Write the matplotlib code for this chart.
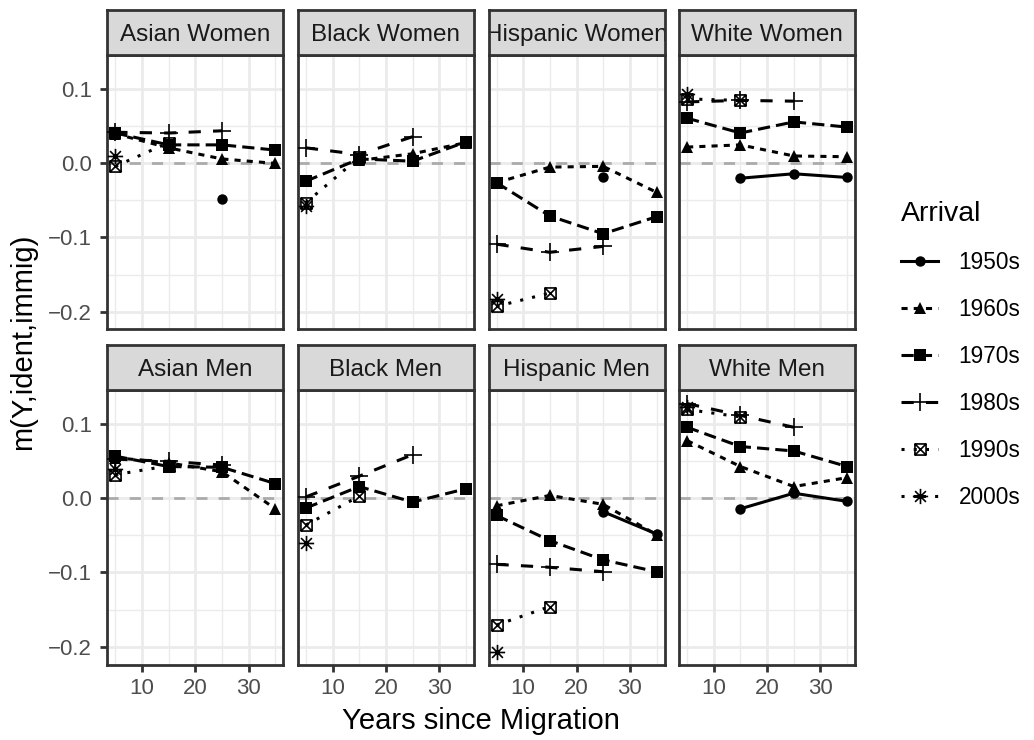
import numpy as np
import matplotlib
matplotlib.use("Agg")
import matplotlib.pyplot as plt
from matplotlib.path import Path
from matplotlib.lines import Line2D

nan = np.nan

# ---------------- data ----------------
years = [5, 15, 25, 35]
arrivals = ["1950s", "1960s", "1970s", "1980s", "1990s", "2000s"]
panels = ["Asian Women", "Black Women", "Hispanic Women", "White Women",
          "Asian Men", "Black Men", "Hispanic Men", "White Men"]

asian_women = {
    "1950s": [nan, nan, -0.048, nan],
    "1960s": [0.040, 0.021, 0.006, 0.000],
    "1970s": [0.041, 0.025, 0.025, 0.018],
    "1980s": [0.042, 0.041, 0.044, nan],
    "1990s": [-0.004, 0.028, nan, nan],
    "2000s": [0.010, nan, nan, nan],
}
black_women = {
    "1950s": [nan, nan, nan, nan],
    "1960s": [nan, 0.004, 0.013, 0.028],
    "1970s": [-0.024, 0.006, 0.003, 0.029],
    "1980s": [0.021, 0.012, 0.036, nan],
    "1990s": [-0.053, 0.008, nan, nan],
    "2000s": [-0.058, nan, nan, nan],
}
hispanic_women = {
    "1950s": [nan, nan, -0.018, nan],
    "1960s": [-0.026, -0.005, -0.004, -0.039],
    "1970s": [-0.026, -0.071, -0.095, -0.072],
    "1980s": [-0.109, -0.120, -0.112, nan],
    "1990s": [-0.193, -0.175, nan, nan],
    "2000s": [-0.183, nan, nan, nan],
}
white_women = {
    "1950s": [nan, -0.020, -0.014, -0.019],
    "1960s": [0.022, 0.025, 0.010, 0.009],
    "1970s": [0.061, 0.041, 0.056, 0.049],
    "1980s": [0.083, 0.085, 0.084, nan],
    "1990s": [0.087, 0.085, nan, nan],
    "2000s": [0.094, nan, nan, nan],
}
asian_men = {
    "1950s": [nan, nan, nan, nan],
    "1960s": [0.055, 0.048, 0.036, -0.014],
    "1970s": [0.057, 0.043, 0.042, 0.020],
    "1980s": [0.053, 0.050, 0.045, nan],
    "1990s": [0.032, 0.044, nan, nan],
    "2000s": [0.040, nan, nan, nan],
}
black_men = {
    "1950s": [nan, nan, nan, nan],
    "1960s": [nan, nan, nan, nan],
    "1970s": [-0.013, 0.016, -0.005, 0.013],
    "1980s": [0.002, 0.030, 0.059, nan],
    "1990s": [-0.036, 0.003, nan, nan],
    "2000s": [-0.060, nan, nan, nan],
}
hispanic_men = {
    "1950s": [nan, nan, -0.018, -0.048],
    "1960s": [-0.010, 0.004, -0.008, -0.049],
    "1970s": [-0.023, -0.057, -0.083, -0.099],
    "1980s": [-0.089, -0.093, -0.099, nan],
    "1990s": [-0.171, -0.146, nan, nan],
    "2000s": [-0.207, nan, nan, nan],
}
white_men = {
    "1950s": [nan, -0.014, 0.007, -0.004],
    "1960s": [0.078, 0.043, 0.016, 0.028],
    "1970s": [0.096, 0.070, 0.064, 0.043],
    "1980s": [0.128, 0.112, 0.096, nan],
    "1990s": [0.120, 0.110, nan, nan],
    "2000s": [0.123, nan, nan, nan],
}
panel_data = [asian_women, black_women, hispanic_women, white_women,
              asian_men, black_men, hispanic_men, white_men]

x_ticks = [10, 20, 30]
x_ticklabels = ["10", "20", "30"]
y_ticks = [-0.2, -0.1, 0.0, 0.1]
y_ticklabels = ["\u22120.2", "\u22120.1", "0.0", "0.1"]

# ---------------- styles ----------------
plt.rcParams["font.family"] = ["Liberation Sans", "DejaVu Sans"]

box_x = Path([(-1, -1), (1, -1), (1, 1), (-1, 1), (-1, -1),
              (-1, -1), (1, 1), (-1, 1), (1, -1)],
             [Path.MOVETO, Path.LINETO, Path.LINETO, Path.LINETO, Path.CLOSEPOLY,
              Path.MOVETO, Path.LINETO, Path.MOVETO, Path.LINETO])
d = 0.7071
asterisk = Path([(-1, 0), (1, 0), (0, -1), (0, 1),
                 (-d, -d), (d, d), (-d, d), (d, -d)],
                [Path.MOVETO, Path.LINETO] * 4)

styles = {
    "1950s": dict(ls="-", marker="o", ms=7.5, mfc="black", mew=0),
    "1960s": dict(ls=(0, (2, 2)), marker="^", ms=9, mfc="black", mew=0),
    "1970s": dict(ls=(0, (4, 2)), marker="s", ms=8, mfc="black", mew=0),
    "1980s": dict(ls=(0, (4, 4)), marker="+", ms=13, mew=1.2),
    "1990s": dict(ls=(0, (1, 3)), marker=box_x, ms=8, mfc="none", mew=1.2),
    "2000s": dict(ls=(0, (1, 3, 4, 3)), marker=asterisk, ms=11, mfc="none", mew=1.2),
}
LW = 2.2

W, H = 1034, 740
fig = plt.figure(figsize=(W / 100, H / 100), dpi=100)

col_left = [107.3 + i * 190.6 for i in range(4)]
pw = 176.0
panel_top = [55.0, 390.0]
ph = 274.5
strip_h = 45.0

ylim = (-0.2242, 0.1463)
xlim = (3.5, 36.5)
border = "#333333"

for i, (name, data) in enumerate(zip(panels, panel_data)):
    r, c = divmod(i, 4)
    L = col_left[c]
    T = panel_top[r]
    ax = fig.add_axes([L / W, 1 - (T + ph) / H, pw / W, ph / H])
    ax.set_xlim(*xlim)
    ax.set_ylim(*ylim)
    ax.set_xticks(x_ticks)
    ax.set_xticks([5, 15, 25, 35], minor=True)
    ax.set_yticks(y_ticks)
    ax.set_yticks([-0.15, -0.05, 0.05], minor=True)
    ax.set_axisbelow(True)
    ax.grid(which="major", color="#EBEBEB", lw=2.0)
    ax.grid(which="minor", color="#EBEBEB", lw=1.0)
    for s in ax.spines.values():
        s.set_color(border)
        s.set_linewidth(2.0)
    ax.tick_params(which="minor", length=0)
    ax.tick_params(which="major", length=4.9, width=2.0, color=border,
                   labelsize=16, labelcolor="#4D4D4D")
    ax.tick_params(axis="y", pad=6.0)
    ax.tick_params(axis="x", pad=4.5)
    if c == 0:
        ax.set_yticklabels(y_ticklabels)
    else:
        ax.tick_params(axis="y", left=False, labelleft=False)
    if r == 1:
        ax.set_xticklabels(x_ticklabels)
    else:
        ax.tick_params(axis="x", bottom=False, labelbottom=False)

    ax.axhline(0, color="#ABABAB", lw=2.0, ls=(0, (4, 4)), zorder=1.5)
    for a in arrivals:
        st = styles[a]
        ax.plot(years, data[a], color="black", lw=LW, ls=st["ls"],
                marker=st["marker"], ms=st["ms"], mfc=st.get("mfc", "black"),
                mec="black", mew=st["mew"], zorder=3)

    # strip above the panel
    sax = fig.add_axes([L / W, 1 - T / H, pw / W, strip_h / H])
    sax.set_facecolor("#D9D9D9")
    sax.set_xticks([])
    sax.set_yticks([])
    for s in sax.spines.values():
        s.set_color(border)
        s.set_linewidth(2.0)
        s.set_zorder(5)
    sax.text(0.5, 0.5, name, transform=sax.transAxes, ha="center",
             va="center_baseline", fontsize=17.5, color="#1A1A1A", clip_on=True)

fig.text(23 / W, 1 - 342 / H, "m(Y,ident,immig)", rotation=90,
         ha="center", va="center", fontsize=21, color="black")
fig.text(481 / W, 1 - 729 / H, "Years since Migration", ha="center",
         va="baseline", fontsize=21, color="black")

handles = []
for a in arrivals:
    st = styles[a]
    handles.append(Line2D([], [], color="black", lw=LW, ls=st["ls"],
                          marker=st["marker"], ms=st["ms"],
                          mfc=st.get("mfc", "black"), mec="black", mew=st["mew"]))
leg = fig.legend(handles, arrivals, title="Arrival", loc="upper left",
                 bbox_to_anchor=(901 / W, 1 - 201 / H), frameon=False,
                 fontsize=16.3, title_fontsize=20.5, handlelength=1.65,
                 handletextpad=0.9, labelspacing=1.06, borderpad=0,
                 borderaxespad=0, alignment="left")
for t in leg.get_texts():
    t.set_color("black")

fig.savefig("out.png", dpi=100)
